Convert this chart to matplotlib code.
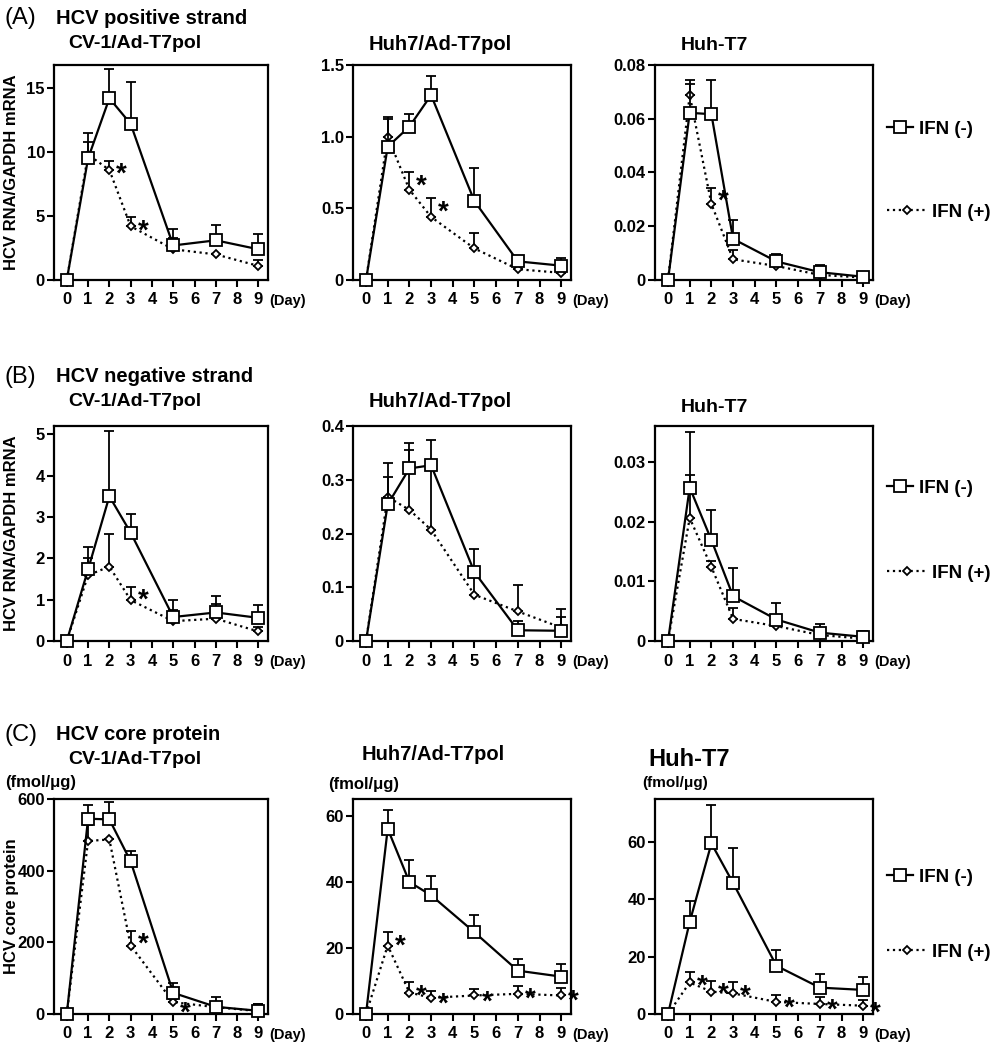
import numpy as np
import matplotlib
matplotlib.use("Agg")
import matplotlib.pyplot as plt
from matplotlib.lines import Line2D

plt.rcParams['font.family'] = ['Liberation Sans', 'DejaVu Sans']
plt.rcParams['font.weight'] = 'bold'
plt.rcParams['axes.labelweight'] = 'bold'

days = [0, 1, 2, 3, 5, 7, 9]
day_ticks = [0, 1, 2, 3, 4, 5, 6, 7, 8, 9]

# (A) HCV positive strand
pos_cv1_minus = [0, 9.5, 14.2, 12.2, 2.7, 3.1, 2.4]
pos_cv1_minus_err = [0, 2.0, 2.3, 3.3, 1.3, 1.2, 1.2]
pos_cv1_plus = [0, 9.8, 8.6, 4.2, 2.4, 2.0, 1.1]
pos_cv1_plus_err = [0, 1.0, 0.7, 0.7, 0.9, 0, 0.5]
pos_cv1_stars = [2, 3]

pos_huh7_minus = [0, 0.93, 1.07, 1.29, 0.55, 0.13, 0.10]
pos_huh7_minus_err = [0, 0.21, 0.09, 0.13, 0.23, 0.04, 0.055]
pos_huh7_plus = [0, 1.0, 0.63, 0.44, 0.22, 0.075, 0.05]
pos_huh7_plus_err = [0, 0.12, 0.12, 0.13, 0.11, 0.04, 0.07]
pos_huh7_stars = [2, 3]

pos_t7_minus = [0, 0.0622, 0.0617, 0.0153, 0.0069, 0.0029, 0.0012]
pos_t7_minus_err = [0, 0.0123, 0.0128, 0.0069, 0.0027, 0.0027, 0.001]
pos_t7_plus = [0, 0.0688, 0.0283, 0.0077, 0.0052, 0.0019, 0.0009]
pos_t7_plus_err = [0, 0.004, 0.006, 0.0033, 0.0023, 0.002, 0.001]
pos_t7_stars = [2]

# (B) HCV negative strand
neg_cv1_minus = [0, 1.73, 3.5, 2.62, 0.58, 0.69, 0.56]
neg_cv1_minus_err = [0, 0.55, 1.58, 0.44, 0.42, 0.40, 0.31]
neg_cv1_plus = [0, 1.59, 1.8, 0.99, 0.48, 0.54, 0.23]
neg_cv1_plus_err = [0, 0.41, 0.8, 0.32, 0.27, 0.36, 0.12]
neg_cv1_stars = [3]

neg_huh7_minus = [0, 0.254, 0.321, 0.327, 0.128, 0.020, 0.019]
neg_huh7_minus_err = [0, 0.077, 0.048, 0.047, 0.044, 0.017, 0.025]
neg_huh7_plus = [0, 0.268, 0.244, 0.207, 0.086, 0.055, 0.025]
neg_huh7_plus_err = [0, 0.037, 0.112, 0.12, 0.04, 0.05, 0.034]
neg_huh7_stars = []

neg_t7_minus = [0, 0.0257, 0.0169, 0.0075, 0.0036, 0.0014, 0.0007]
neg_t7_minus_err = [0, 0.0093, 0.005, 0.0048, 0.0028, 0.0014, 0.001]
neg_t7_plus = [0, 0.0206, 0.0124, 0.0037, 0.0025, 0.0010, 0.0004]
neg_t7_plus_err = [0, 0.0072, 0.001, 0.0018, 0.0005, 0.0008, 0.0008]
neg_t7_stars = []

# (C) HCV core protein (fmol/ug)
core_cv1_minus = [0, 545, 543, 426, 59, 20, 9]
core_cv1_minus_err = [0, 38, 48, 28, 27, 28, 19]
core_cv1_plus = [0, 483, 487, 191, 33, 19, 8]
core_cv1_plus_err = [0, 44, 0, 40, 8, 0, 20]
core_cv1_stars = [3, 5]

core_huh7_minus = [0, 56, 39.9, 35.9, 24.7, 13.1, 11.3]
core_huh7_minus_err = [0, 5.8, 6.6, 5.7, 5.1, 3.6, 3.9]
core_huh7_plus = [0, 20.7, 6.5, 4.9, 5.6, 6.1, 5.6]
core_huh7_plus_err = [0, 4.0, 3.1, 2.2, 2.1, 2.4, 2.2]
core_huh7_stars = [1, 2, 3, 5, 7, 9]

core_t7_minus = [0, 32.1, 59.5, 45.7, 16.8, 9.2, 8.4]
core_t7_minus_err = [0, 7.2, 13.5, 12.1, 5.7, 4.6, 4.4]
core_t7_plus = [0, 11.0, 7.8, 7.2, 4.2, 3.5, 2.9]
core_t7_plus_err = [0, 3.5, 3.7, 3.8, 2.5, 2.6, 2.1]
core_t7_stars = [1, 2, 3, 5, 7, 9]

# y axis settings per panel
ylims = [[16.8, 1.5, 0.08], [5.2, 0.4, 0.036], [600, 65, 75]]
yticks = [
    [[0, 5, 10, 15], [0, 0.5, 1.0, 1.5], [0, 0.02, 0.04, 0.06, 0.08]],
    [[0, 1, 2, 3, 4, 5], [0, 0.1, 0.2, 0.3, 0.4], [0, 0.01, 0.02, 0.03]],
    [[0, 200, 400, 600], [0, 20, 40, 60], [0, 20, 40, 60]],
]
ytick_labels = [
    [['0', '5', '10', '15'], ['0', '0.5', '1.0', '1.5'], ['0', '0.02', '0.04', '0.06', '0.08']],
    [['0', '1', '2', '3', '4', '5'], ['0', '0.1', '0.2', '0.3', '0.4'], ['0', '0.01', '0.02', '0.03']],
    [['0', '200', '400', '600'], ['0', '20', '40', '60'], ['0', '20', '40', '60']],
]

panels = [
    [(pos_cv1_minus, pos_cv1_minus_err, pos_cv1_plus, pos_cv1_plus_err, pos_cv1_stars),
     (pos_huh7_minus, pos_huh7_minus_err, pos_huh7_plus, pos_huh7_plus_err, pos_huh7_stars),
     (pos_t7_minus, pos_t7_minus_err, pos_t7_plus, pos_t7_plus_err, pos_t7_stars)],
    [(neg_cv1_minus, neg_cv1_minus_err, neg_cv1_plus, neg_cv1_plus_err, neg_cv1_stars),
     (neg_huh7_minus, neg_huh7_minus_err, neg_huh7_plus, neg_huh7_plus_err, neg_huh7_stars),
     (neg_t7_minus, neg_t7_minus_err, neg_t7_plus, neg_t7_plus_err, neg_t7_stars)],
    [(core_cv1_minus, core_cv1_minus_err, core_cv1_plus, core_cv1_plus_err, core_cv1_stars),
     (core_huh7_minus, core_huh7_minus_err, core_huh7_plus, core_huh7_plus_err, core_huh7_stars),
     (core_t7_minus, core_t7_minus_err, core_t7_plus, core_t7_plus_err, core_t7_stars)],
]

W, H = 995, 1050
fig = plt.figure(figsize=(W / 100, H / 100), dpi=100)

col_left = [54, 353, 655]
col_right = [268, 571, 873]
row_top = [65, 426, 799]
ax_h = 215


def draw_panel(ax, minus, minus_err, plus, plus_err, stars):
    zeros = np.zeros(len(days))
    ax.errorbar(days, plus, yerr=[zeros, plus_err], color='black', ls=':', lw=1.6,
                marker='D', ms=4.5, mfc='white', mec='black', mew=1.3,
                ecolor='black', elinewidth=1.3, capsize=3.5, capthick=1.3,
                clip_on=False, zorder=3)
    ax.errorbar(days, minus, yerr=[zeros, minus_err], color='black', ls='-', lw=1.6,
                marker='s', ms=8, mfc='white', mec='black', mew=1.3,
                ecolor='black', elinewidth=1.3, capsize=3.5, capthick=1.3,
                clip_on=False, zorder=4)
    for d in stars:
        i = days.index(d)
        ax.annotate('*', xy=(d, plus[i] + plus_err[i]), xytext=(5, -10),
                    textcoords='offset points', ha='left', va='center',
                    fontsize=20, fontweight='bold', zorder=5, annotation_clip=False)


for r in range(3):
    for c in range(3):
        left = col_left[c] / W
        width = (col_right[c] - col_left[c]) / W
        bottom = 1 - (row_top[r] + ax_h) / H
        ax = fig.add_axes([left, bottom, width, ax_h / H])
        draw_panel(ax, *panels[r][c])
        ax.set_xlim(-0.6, 9.45)
        ax.set_ylim(0, ylims[r][c])
        ax.set_xticks(day_ticks)
        ax.set_xticklabels([str(d) for d in day_ticks])
        ax.set_yticks(yticks[r][c])
        ax.set_yticklabels(ytick_labels[r][c])
        ax.tick_params(direction='out', length=5, width=1.5, labelsize=12)
        ax.tick_params(axis='x', pad=4)
        ax.tick_params(axis='y', pad=1.5)
        for sp in ax.spines.values():
            sp.set_linewidth(1.6)
        ax.annotate('(Day)', xy=(1, 0), xycoords='axes fraction', xytext=(1, -10),
                    textcoords='offset points', ha='left', va='top', fontsize=10.5)
        if c == 0:
            label = 'HCV RNA/GAPDH mRNA' if r < 2 else 'HCV core protein'
            ax.set_ylabel(label, fontsize=12, fontweight='bold')
            ax.yaxis.set_label_coords((19 - 54) / 214, 0.5)

# headings
heads = [('(A)', 'HCV positive strand', 18), ('(B)', 'HCV negative strand', 377),
         ('(C)', 'HCV core protein', 735)]
for tag, name, y in heads:
    fig.text(5 / W, 1 - y / H, tag, fontsize=17, fontweight='normal', va='center')
    fig.text(56 / W, 1 - y / H, name, fontsize=14.5, va='center')

fig.text(135 / W, 1 - 43 / H, 'CV-1/Ad-T7pol', fontsize=14, ha='center', va='center')
fig.text(440 / W, 1 - 45 / H, 'Huh7/Ad-T7pol', fontsize=14.5, ha='center', va='center')
fig.text(714 / W, 1 - 45 / H, 'Huh-T7', fontsize=14, ha='center', va='center')
fig.text(135 / W, 1 - 402 / H, 'CV-1/Ad-T7pol', fontsize=14, ha='center', va='center')
fig.text(440 / W, 1 - 402 / H, 'Huh7/Ad-T7pol', fontsize=14.5, ha='center', va='center')
fig.text(714 / W, 1 - 407 / H, 'Huh-T7', fontsize=14, ha='center', va='center')
fig.text(135 / W, 1 - 759 / H, 'CV-1/Ad-T7pol', fontsize=14, ha='center', va='center')
fig.text(433 / W, 1 - 755 / H, 'Huh7/Ad-T7pol', fontsize=14.5, ha='center', va='center')
fig.text(689 / W, 1 - 760 / H, 'Huh-T7', fontsize=17, ha='center', va='center')

fig.text(5 / W, 1 - 782 / H, '(fmol/μg)', fontsize=12, va='center')
fig.text(328 / W, 1 - 785 / H, '(fmol/μg)', fontsize=12, va='center')
fig.text(642 / W, 1 - 783 / H, '(fmol/μg)', fontsize=11, va='center')

# legends
h_minus = Line2D([], [], color='black', ls='-', lw=1.6, marker='s', ms=8,
                 mfc='white', mec='black', mew=1.3)
h_plus = Line2D([], [], color='black', ls=':', lw=1.6, marker='D', ms=4.5,
                mfc='white', mec='black', mew=1.3)
legend_rows = [(129, 212), (488, 573), (877, 952)]
for y_m, y_p in legend_rows:
    fig.legend([h_minus], ['IFN (-)'], loc='center left', bbox_to_anchor=(887 / W, 1 - y_m / H),
               frameon=False, fontsize=13.5, handlelength=1.4, handletextpad=0.3,
               borderpad=0, borderaxespad=0, numpoints=1)
    fig.legend([h_plus], ['IFN (+)'], loc='center left', bbox_to_anchor=(887 / W, 1 - y_p / H),
               frameon=False, fontsize=13.5, handlelength=2.1, handletextpad=0.3,
               borderpad=0, borderaxespad=0, numpoints=1)

fig.savefig('out.png', dpi=100)
